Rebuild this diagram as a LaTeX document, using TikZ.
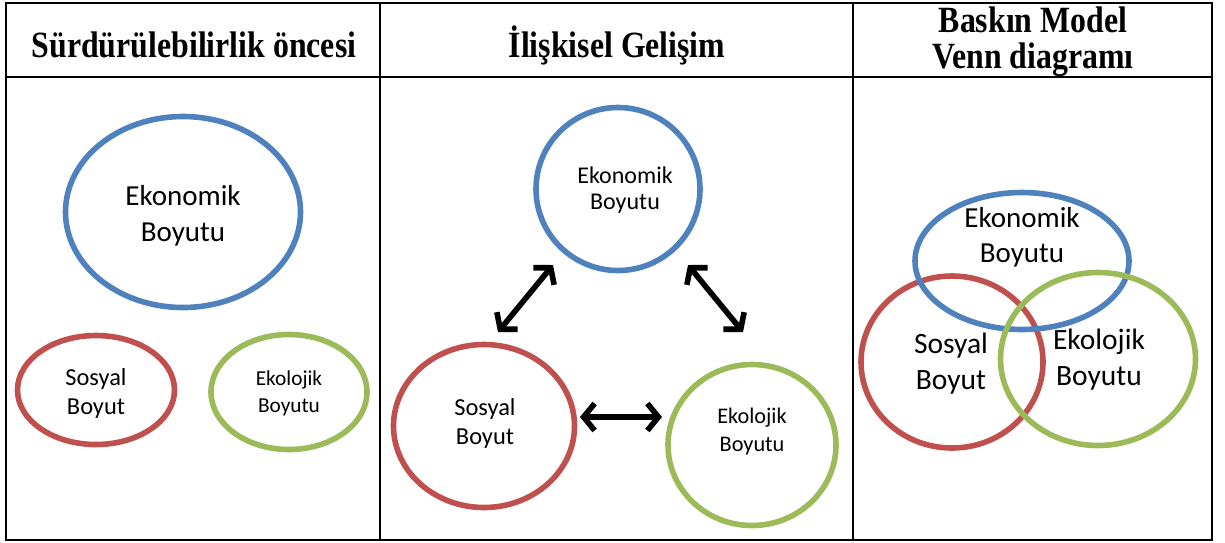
\documentclass[tikz,border=0pt]{standalone}
\usepackage{fontspec}
\setmainfont{Carlito}
\newfontfamily\hdrfont[FakeStretch=0.86]{Liberation Serif}
\usetikzlibrary{arrows.meta,shapes.geometric}
\definecolor{eblue}{HTML}{4F81BD}
\definecolor{ered}{HTML}{C0504D}
\definecolor{egreen}{HTML}{9BBB59}
\tikzset{
  grid/.style={line width=2.6pt, line cap=rect},
  ring/.style={ellipse, line width=5.6pt, inner sep=0pt},
  bluering/.style={ring, draw=eblue},
  redring/.style={ring, draw=ered},
  greenring/.style={ring, draw=egreen},
  lbl/.style={align=center, inner sep=0pt, text=black},
  hdr/.style={align=center, inner sep=0pt, font=\hdrfont\bfseries\fontsize{37}{36}\selectfont},
  dbl/.style={line width=5.6pt, {Straight Barb[length=11pt,width=27pt]}-{Straight Barb[length=11pt,width=27pt]}},
}
\begin{document}
\begin{tikzpicture}[x=1pt,y=-1pt]
\useasboundingbox (0,0) rectangle (1225,542);
% table
\draw[grid] (6,3) rectangle (1212,540);
\draw[grid] (6,77) -- (1212,77);
\draw[grid] (380,3) -- (380,540);
\draw[grid] (853,3) -- (853,540);
% headers
\node[hdr] (h1) at (194,45) {Sürdürülebilirlik öncesi};
\node[hdr] (h2) at (617,45) {İlişkisel Gelişim};
\node[hdr] (h3) at (1033,42) {Baskın Model\\Venn diagramı};
% panel 1
\node[bluering, minimum width=235pt, minimum height=191pt] (eko1) at (183,212) {};
\node[redring, minimum width=157pt, minimum height=109pt] (sos1) at (96,390) {};
\node[greenring, minimum width=156pt, minimum height=115pt] (ekl1) at (289,392) {};
\node[lbl, font=\fontsize{29}{36}\selectfont] (teko1) at (183,216) {Ekonomik\\Boyutu};
\node[lbl, font=\fontsize{24.4}{29}\selectfont] (tsos1) at (96,393) {Sosyal\\Boyut};
\node[lbl, font=\fontsize{21.3}{27}\selectfont] (tekl1) at (289,393) {Ekolojik\\Boyutu};
% panel 2
\node[bluering, minimum width=164pt, minimum height=163pt] (eko2) at (618,189) {};
\node[redring, minimum width=181pt, minimum height=163pt] (sos2) at (484,426) {};
\node[greenring, minimum width=168pt, minimum height=161pt] (ekl2) at (752,445) {};
\node[lbl, font=\fontsize{24}{26}\selectfont] (teko2) at (625,190) {Ekonomik\\Boyutu};
\node[lbl, font=\fontsize{24.4}{29}\selectfont] (tsos2) at (485,423) {Sosyal\\Boyut};
\node[lbl, font=\fontsize{22.3}{28}\selectfont] (tekl2) at (752,432) {Ekolojik\\Boyutu};
\coordinate (a1) at (553,265);
\coordinate (a2) at (498,332);
\coordinate (b1) at (688,265);
\coordinate (b2) at (743,332);
\coordinate (c1) at (580,417);
\coordinate (c2) at (662,417);
\draw[dbl] (a1) -- (a2);
\draw[dbl] (b1) -- (b2);
\draw[dbl] (c1) -- (c2);
% panel 3
\node[redring, minimum width=182pt, minimum height=172pt] (sos3) at (952,362) {};
\node[bluering, minimum width=214pt, minimum height=137pt] (eko3) at (1022,261) {};
\node[greenring, minimum width=195pt, minimum height=173pt] (ekl3) at (1098,359) {};
\node[lbl, font=\fontsize{29}{35}\selectfont] (teko3) at (1022,237) {Ekonomik\\Boyutu};
\node[lbl, font=\fontsize{29.5}{36}\selectfont] (tsos3) at (951,364) {Sosyal\\Boyut};
\node[lbl, font=\fontsize{29.5}{36}\selectfont] (tekl3) at (1099,360) {Ekolojik\\Boyutu};
\end{tikzpicture}
\end{document}
